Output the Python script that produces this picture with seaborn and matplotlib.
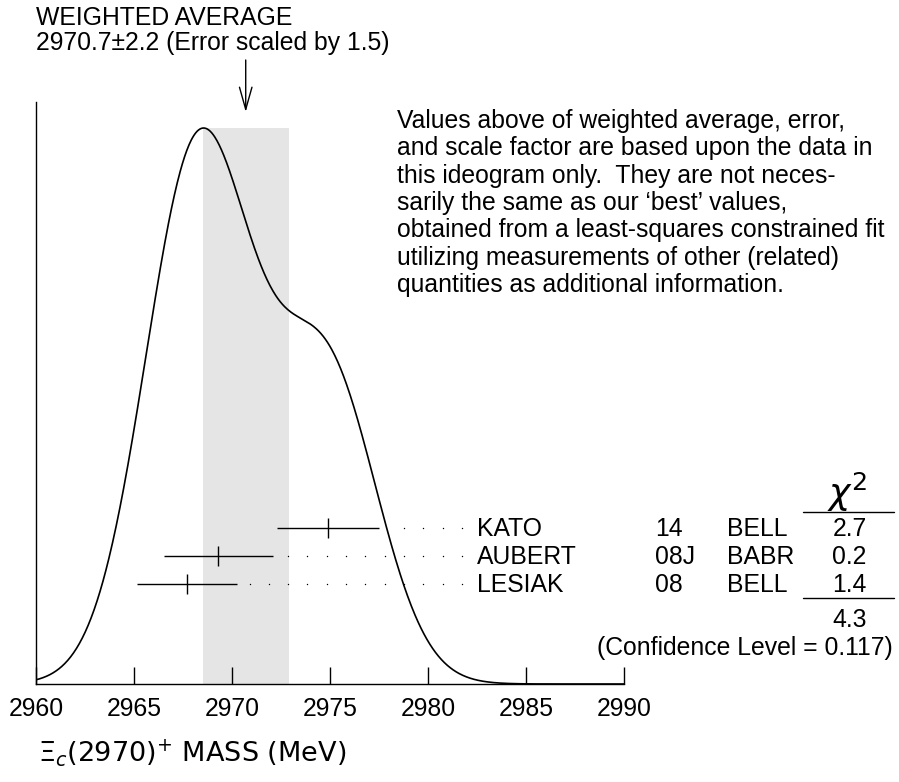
import numpy as np
import pandas as pd
import matplotlib
matplotlib.use("Agg")
import matplotlib.pyplot as plt
import seaborn as sns

# Measurements shown in the ideogram
authors = ["KATO", "AUBERT", "LESIAK"]
years = ["14", "08J", "08"]
experiments = ["BELL", "BABR", "BELL"]
values = [2974.9, 2969.3, 2967.7]
errors = [2.58, 2.78, 2.55]
chi2 = ["2.7", "0.2", "1.4"]
chi2_total = "4.3"
conf_level = "0.117"

# Weighted average
avg_value = 2970.7
avg_error = 2.2
scale_factor = 1.5

x_ticks = [2960, 2965, 2970, 2975, 2980, 2985, 2990]

note_lines = [
    "Values above of weighted average, error,",
    "and scale factor are based upon the data in",
    "this ideogram only.  They are not neces-",
    "sarily the same as our \u2018best\u2019 values,",
    "obtained from a least-squares constrained fit",
    "utilizing measurements of other (related)",
    "quantities as additional information.",
]

# Style
sns.set_theme(style="white")
plt.rcParams["font.family"] = ["Liberation Sans", "DejaVu Sans"]
plt.rcParams["mathtext.fontset"] = "dejavusans"
plt.rcParams["text.color"] = "black"
plt.rcParams["xtick.color"] = "black"
plt.rcParams["xtick.labelcolor"] = "black"

W, H = 899, 782
FS = 17.8

fig = plt.figure(figsize=(W / 100, H / 100), dpi=100)
ax = fig.add_axes([36 / W, (H - 684) / H, (624 - 36) / W, (684 - 102) / H])
ax.set_xlim(2960, 2990)
ax.set_ylim(0, 1)
ax.patch.set_alpha(0)

# Ideogram: sum of gaussians, area proportional to 1/sigma
xs = np.linspace(2960, 2990, 800)
curve = np.zeros_like(xs)
for v, e in zip(values, errors):
    curve += np.exp(-0.5 * ((xs - v) / e) ** 2) / e ** 2
peak_h = (684 - 128) / 582
curve = curve / curve.max() * peak_h
ideo = pd.DataFrame({"mass": xs, "density": curve})

# Shaded band for weighted average +- error
ax.fill_between([avg_value - avg_error, avg_value + avg_error], 0, peak_h,
                color="#e5e5e5", lw=0, zorder=0)

sns.lineplot(data=ideo, x="mass", y="density", ax=ax, color="black", lw=1.2, zorder=3)

# Measurements with error bars and dotted leaders
row_y0 = (684 - 528) / 582
row_step = 28 / 582
base_off = 8.5 / 582
dot_end = 2981.73
dot_step = 0.985
for i, (v, e) in enumerate(zip(values, errors)):
    y = row_y0 - i * row_step
    ax.errorbar([v], [y], xerr=[e], fmt="|", color="black", ms=14.4, mew=1.0,
                elinewidth=1.0, capsize=0, zorder=4)
    dots = []
    d = dot_end
    while d > v + e + 0.6:
        dots.append(d)
        d -= dot_step
    ax.plot(dots, [y] * len(dots), ls="none", marker="o", ms=1.0, mew=0, color="black")
    yb = y - base_off
    ax.text(2982.5, yb, authors[i], fontsize=FS, va="baseline", ha="left", clip_on=False)
    ax.text(2991.58, yb, years[i], fontsize=FS, va="baseline", ha="left", clip_on=False)
    ax.text(2995.26, yb, experiments[i], fontsize=FS, va="baseline", ha="left", clip_on=False)
    ax.text(3001.5, yb, chi2[i], fontsize=FS, va="baseline", ha="center", clip_on=False)

# chi^2 column
ax.text(3001.4, (684 - 505) / 582, r"$\chi^2$", fontsize=26, va="baseline", ha="center",
        clip_on=False)
ax.plot([2999.13, 3003.78], [(684 - 512) / 582] * 2, color="black", lw=1, clip_on=False)
ax.plot([2999.13, 3003.78], [(684 - 598) / 582] * 2, color="black", lw=1, clip_on=False)
ax.text(3001.5, (684 - 627) / 582, chi2_total, fontsize=FS, va="baseline", ha="center",
        clip_on=False)
ax.text(3003.72, (684 - 655) / 582, f"(Confidence Level = {conf_level})", fontsize=FS,
        va="baseline", ha="right", clip_on=False)

# Arrow at the weighted average
ax.annotate("", xy=(avg_value, (684 - 112) / 582), xytext=(avg_value, (684 - 60) / 582),
            annotation_clip=False,
            arrowprops=dict(arrowstyle="->,head_length=1.6,head_width=0.45",
                            color="black", lw=1, shrinkA=0, shrinkB=0, mutation_scale=10))

# Axes styling
sns.despine(ax=ax, top=True, right=True)
for s in ["left", "bottom"]:
    ax.spines[s].set_color("black")
    ax.spines[s].set_linewidth(1.0)
ax.set_xticks(x_ticks)
ax.set_xticklabels([str(t) for t in x_ticks], fontsize=FS)
ax.set_yticks([])
ax.tick_params(axis="x", direction="in", length=12.2, width=1, color="black", pad=9,
               bottom=True)
ax.set_xlabel("")
ax.set_ylabel("")

# Header text
fig.text(36 / W, 1 - 25 / H, "WEIGHTED AVERAGE", fontsize=FS, va="baseline", ha="left")
fig.text(36 / W, 1 - 50 / H,
         f"{avg_value}\u00b1{avg_error} (Error scaled by {scale_factor})",
         fontsize=FS, va="baseline", ha="left")

for i, line in enumerate(note_lines):
    fig.text(397 / W, 1 - (128 + i * 27.3) / H, line, fontsize=FS, va="baseline", ha="left")

fig.text(38 / W, 1 - 762 / H, r"$\mathit{\Xi}_{c}\mathrm{(2970)}^{+}$ MASS (MeV)",
         fontsize=19.5, va="baseline", ha="left", family="DejaVu Sans")

fig.savefig("out.png", dpi=100)
